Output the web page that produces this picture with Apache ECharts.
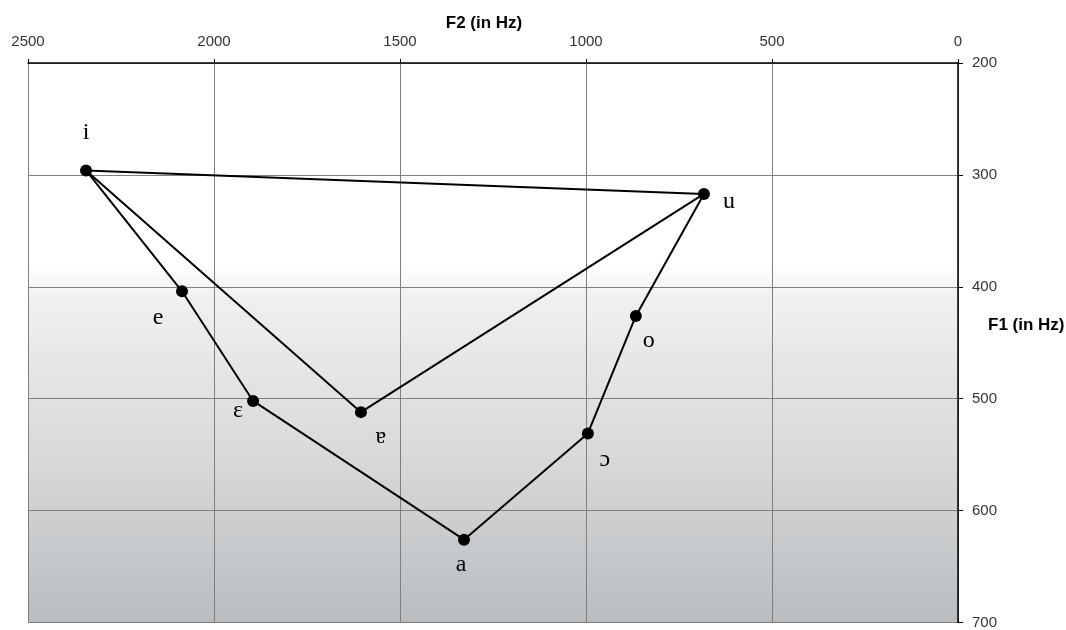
<!DOCTYPE html>
<html>
<head>
<meta charset="utf-8">
<script src="https://cdn.jsdelivr.net/npm/echarts@6/dist/echarts.min.js"></script>
<style>
    html, body { margin: 0; padding: 0; background: #fff; }
    #chart { width: 1066px; height: 630px; }
</style>
</head>
<body>
<div id="chart"></div>
<script>
// vowel formants (Hz)
var vowels = ['i', 'u', 'e', 'ɛ', 'ɐ', 'a', 'ɔ', 'o'];
var f2 = [2344, 683, 2086, 1895, 1605, 1328, 995, 866];
var f1 = [296, 317, 404, 502, 512, 626, 531, 426];
// order the outline is traced in (indices into vowels)
var path = [1, 0, 2, 3, 5, 6, 7, 1, 4, 0];
var f2Ticks = [0, 500, 1000, 1500, 2000, 2500];
var f1Ticks = [200, 300, 400, 500, 600, 700];

// label offsets per vowel
var labelOffset = {
    'i': [0, -38], 'u': [25, 8], 'e': [-24, 26], 'ɛ': [-15, 10],
    'ɐ': [20, 25], 'a': [-3, 25], 'ɔ': [17, 26], 'o': [13, 25]
};

var chart = echarts.init(document.getElementById('chart'));

var lineData = path.map(function (k) { return [f2[k], f1[k]]; });
var pointData = vowels.map(function (v, k) {
    return {
        value: [f2[k], f1[k]],
        name: v,
        label: { offset: labelOffset[v] }
    };
});

var titleStyle = { fontFamily: 'Liberation Sans', fontSize: 17, fontWeight: 'bold', color: '#000' };

var option = {
    animation: false,
    title: [
        { text: 'F2 (in Hz)', left: 479, top: 10, textAlign: 'center', textStyle: titleStyle },
        { text: 'F1 (in Hz)', left: 983, top: 312, textStyle: titleStyle }
    ],
    grid: {
        left: 28, right: 108, top: 63, bottom: 7,
        show: true,
        borderWidth: 0,
        backgroundColor: {
            type: 'linear', x: 0, y: 0, x2: 0, y2: 1,
            colorStops: [
                { offset: 0, color: '#ffffff' },
                { offset: 0.36, color: '#ffffff' },
                { offset: 0.42, color: '#f0f0f0' },
                { offset: 0.7, color: '#d8d9da' },
                { offset: 1, color: '#b9bdc0' }
            ]
        }
    },
    xAxis: {
        type: 'value', position: 'top', inverse: true,
        min: f2Ticks[0], max: f2Ticks[f2Ticks.length - 1], interval: 500,
        axisLine: { show: true, lineStyle: { color: '#000', width: 1.5 } },
        axisTick: { show: true, length: 4, lineStyle: { color: '#000' } },
        axisLabel: {
            margin: 14, color: '#333', fontFamily: 'Liberation Sans', fontSize: 15,
            formatter: function (v) { return String(v); }
        },
        splitLine: { show: true, lineStyle: { color: '#7f7f7f', width: 1 } }
    },
    yAxis: {
        type: 'value', position: 'right', inverse: true,
        min: f1Ticks[0], max: f1Ticks[f1Ticks.length - 1], interval: 100,
        axisLine: { show: true, lineStyle: { color: '#000', width: 1.5 } },
        axisTick: { show: true, length: 5, lineStyle: { color: '#000' } },
        axisLabel: {
            margin: 14, color: '#333', fontFamily: 'Liberation Sans', fontSize: 15,
            formatter: function (v) { return String(v); }
        },
        splitLine: { show: true, lineStyle: { color: '#7f7f7f', width: 1 } }
    },
    series: [
        {
            type: 'line',
            data: lineData,
            showSymbol: false,
            lineStyle: { color: '#000', width: 2 },
            z: 3
        },
        {
            type: 'scatter',
            data: pointData,
            symbolSize: 12,
            itemStyle: { color: '#000', opacity: 1 },
            label: {
                show: true,
                position: 'inside',
                formatter: '{b}',
                fontFamily: 'Liberation Serif',
                fontSize: 24,
                color: '#000'
            },
            z: 4
        }
    ]
};

chart.setOption(option);
</script>
</body>
</html>
